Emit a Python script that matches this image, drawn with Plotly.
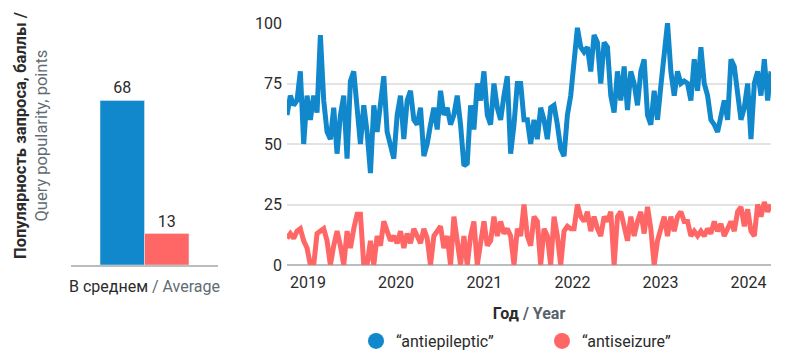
import pandas as pd
import plotly.graph_objects as go

# ---- data ----
blue_name = "“antiepileptic”"
red_name = "“antiseizure”"
avg_category = "В среднем <span style='color:#5f6b73'>/ Average</span>"
avg_values = [68, 13]

start_date = "2018-10-06"
end_date = "2024-04-03"

antiepileptic = [
    62, 70, 66, 68, 80, 50, 70, 60, 70, 63, 95, 68, 55, 52, 65, 46, 62, 70, 44, 76, 80, 62, 50, 66,
    55, 38, 66, 55, 68, 78, 55, 50, 44, 62, 70, 52, 68, 72, 60, 58, 65, 45, 50, 58, 65, 56, 72, 62,
    65, 58, 62, 70, 58, 41, 42, 66, 56, 75, 68, 80, 62, 58, 75, 65, 60, 70, 78, 46, 58, 75, 75, 60,
    60, 50, 60, 52, 65, 60, 52, 65, 66, 58, 48, 45, 62, 70, 85, 98, 90, 88, 90, 80, 95, 92, 75, 92,
    90, 70, 63, 80, 68, 82, 64, 80, 75, 66, 80, 85, 62, 58, 72, 60, 74, 90, 100, 80, 70, 80, 75, 76,
    75, 68, 85, 72, 90, 75, 70, 60, 58, 55, 62, 68, 60, 85, 82, 70, 60, 65, 75, 52, 75, 80, 70, 85, 68, 80,
]
antiseizure = [
    11, 13, 11, 14, 15, 10, 7, 0, 0, 13, 14, 15, 10, 0, 8, 14, 8, 0, 14, 7, 15, 21, 21, 0,
    0, 10, 0, 12, 8, 18, 14, 10, 12, 9, 14, 7, 13, 9, 15, 12, 9, 15, 11, 0, 12, 14, 16, 7,
    12, 0, 20, 10, 0, 12, 0, 12, 18, 0, 10, 18, 8, 10, 20, 12, 18, 13, 15, 12, 0, 15, 12, 25,
    12, 8, 20, 18, 0, 15, 12, 0, 20, 12, 0, 14, 16, 15, 15, 25, 20, 18, 22, 14, 20, 15, 12, 20,
    18, 22, 0, 20, 22, 15, 10, 20, 12, 18, 22, 13, 24, 15, 0, 10, 16, 20, 12, 20, 14, 20, 22, 18,
    18, 12, 14, 12, 14, 12, 15, 13, 18, 14, 17, 12, 15, 18, 14, 22, 24, 16, 23, 14, 12, 25, 20, 26, 22, 25,
]

BLUE = "#1188cc"
RED = "#ff6666"
DARK = "#2b2b2b"
FONT = "Roboto"

# page body has an 8px margin: draw into the remaining 779x356 area
OFF = 8
W, H = 787 - OFF, 364 - OFF


def px(x):
    return (x - OFF) / W


def py(y):
    return 1 - (y - OFF) / H


dates = pd.date_range(start_date, end_date, periods=len(antiepileptic))

fig = go.Figure()

# left: averages
for val, col in zip(avg_values, [BLUE, RED]):
    fig.add_trace(go.Bar(x=[avg_category], y=[val], marker_color=col, text=[str(val)],
                         textposition="outside", textfont=dict(size=16, color=DARK), cliponaxis=False,
                         xaxis="x", yaxis="y", showlegend=False, hoverinfo="skip"))

# right: time series
fig.add_trace(go.Scatter(x=dates, y=antiepileptic, mode="lines", line=dict(color=BLUE, width=5),
                         xaxis="x2", yaxis="y2", showlegend=False))
fig.add_trace(go.Scatter(x=dates, y=antiseizure, mode="lines", line=dict(color=RED, width=5),
                         xaxis="x2", yaxis="y2", showlegend=False))

# legend entries
fig.add_trace(go.Scatter(x=[None], y=[None], mode="markers", name=blue_name,
                         marker=dict(color=BLUE, size=18, symbol="circle"), xaxis="x2", yaxis="y2"))
fig.add_trace(go.Scatter(x=[None], y=[None], mode="markers", name=red_name,
                         marker=dict(color=RED, size=18, symbol="circle"), xaxis="x2", yaxis="y2"))

ydom = [py(265), py(23)]

fig.update_layout(
    width=W, height=H,
    margin=dict(l=0, r=0, t=0, b=0, autoexpand=False),
    paper_bgcolor="white", plot_bgcolor="white",
    font=dict(family=FONT, size=15, color=DARK),
    barmode="group", bargap=0.395, bargroupgap=0,
    xaxis=dict(domain=[px(71), px(218)], showline=True, linecolor="#b9bebe", linewidth=2,
               showgrid=False, ticks="", tickfont=dict(size=16, color=DARK), fixedrange=True,
               automargin=False, ticklabelstandoff=6),
    yaxis=dict(domain=ydom, range=[0, 100], showgrid=False, zeroline=False, showticklabels=False,
               showline=False, automargin=False),
    xaxis2=dict(domain=[px(287), px(771)], anchor="y2", type="date", automargin=False,
                range=[dates[0], dates[-1]], dtick="M12", tick0="2019-01-01", tickformat="%Y",
                showgrid=False, showline=False, ticks="", zeroline=False,
                tickfont=dict(size=16, color=DARK), ticklabelstandoff=6,
                title=dict(text="<b>Год <span style='color:#56626b'>/ Year</span></b>",
                           font=dict(size=16, color=DARK), standoff=16)),
    yaxis2=dict(domain=ydom, anchor="x2", range=[0, 100], tickvals=[0, 25, 50, 75, 100], automargin=False,
                showgrid=True, gridcolor="#e2e4e4", gridwidth=1.5,
                zeroline=True, zerolinecolor="#b9bebe", zerolinewidth=2,
                ticks="", tickfont=dict(size=16, color=DARK), showline=False, ticklabelstandoff=4),
    legend=dict(orientation="h", x=px(356), xanchor="left", y=py(341), yanchor="middle",
                font=dict(size=16, color=DARK), entrywidth=141, entrywidthmode="pixels",
                itemsizing="trace", bgcolor="rgba(0,0,0,0)"),
    annotations=[
        dict(text="<b>Популярность запроса, баллы /</b><br><span style='color:#5f6b73'>Query popularity, points</span>",
             xref="paper", yref="paper", x=px(31), y=py(136), xanchor="center", yanchor="middle",
             textangle=-90, showarrow=False, font=dict(size=16.5, color=DARK), align="center"),
    ],
)

fig.write_html("out.html")
